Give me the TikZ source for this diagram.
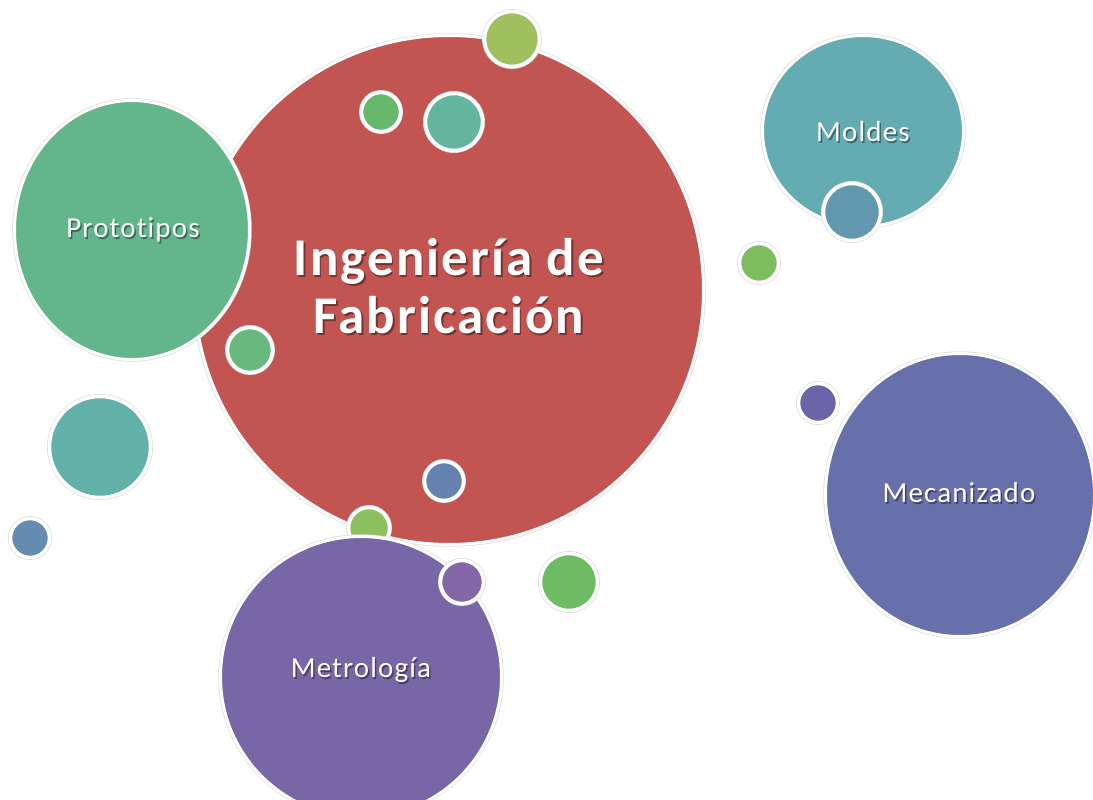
\documentclass[tikz,border=0pt]{standalone}
\usepackage{fontspec}
\setmainfont{Carlito}[Ligatures=NoCommon, LetterSpace=4]
\usetikzlibrary{shapes.geometric}
\definecolor{cred}{HTML}{C25551}
\definecolor{cproto}{HTML}{63B68C}
\definecolor{cteal}{HTML}{63B2A9}
\definecolor{cmold}{HTML}{64ACB2}
\definecolor{cbluem}{HTML}{6399B0}
\definecolor{cmeca}{HTML}{6870AC}
\definecolor{cmetro}{HTML}{7867A7}
\definecolor{cpurm}{HTML}{6B64A8}
\definecolor{cpurt}{HTML}{8367A8}
\definecolor{cyg}{HTML}{A0C060}
\definecolor{cg1}{HTML}{66B96B}
\definecolor{cg2}{HTML}{6DBB63}
\definecolor{cg3}{HTML}{7EBD5F}
\definecolor{cg4}{HTML}{68B880}
\definecolor{cg5}{HTML}{8DC05E}
\definecolor{cblr}{HTML}{6682B0}
\definecolor{cbll}{HTML}{648CB0}
\definecolor{ctealr}{HTML}{64B59E}
\tikzset{
  bub/.style={circle, inner sep=0pt, fill=#1, draw=white, line width=3.5pt,
    preaction={draw=black!13, line width=5pt}},
  bigbub/.style={ellipse, inner sep=0pt, fill=#1, draw=white, line width=3pt,
    preaction={draw=black!13, line width=4.5pt}},
  lbl/.style={text=white, inner sep=0pt, font=\fontsize{29}{32}\selectfont},
  shd/.style={text=black, opacity=0.4, inner sep=0pt, font=\fontsize{29}{32}\selectfont},
  mainlbl/.style={text=white, inner sep=0pt, anchor=base, font=\bfseries\fontsize{53}{58}\selectfont},
  mainshd/.style={text=black, opacity=0.4, inner sep=0pt, anchor=base, font=\bfseries\fontsize{53}{58}\selectfont},
}
\begin{document}
\begin{tikzpicture}[x=1pt,y=-1pt]
\useasboundingbox (0,0) rectangle (1093,800);
\clip (0,0) rectangle (1093,800);
% main
\node[bigbub=cred, minimum width=509pt, minimum height=509pt] (main) at (449,290) {};
\node[bub=cyg, minimum size=55pt] (yg) at (512,39) {};
\node[bub=cg1, minimum size=39pt] (g1) at (381,112) {};
\node[bub=ctealr, minimum size=57pt] (tr) at (454,122) {};
% prototipos
\node[bigbub=cproto, minimum width=235pt, minimum height=259pt] (proto) at (132,230) {};
\node[bub=cg4, minimum size=45pt] (g4) at (250,350) {};
\node[bub=cblr, minimum size=39pt] (blr) at (444,481) {};
\node[bub=cg5, minimum size=41pt] (g5) at (369,528) {};
% metrologia
\node[bigbub=cmetro, minimum width=281pt, minimum height=281pt] (metro) at (361,677) {};
\node[bub=cpurt, minimum size=43pt] (pt) at (462,582) {};
\node[bub=cg2, minimum size=57pt] (g2) at (569,582) {};
\node[bub=cteal, minimum size=101pt] (teal) at (100,447) {};
\node[bub=cbll, minimum size=39pt] (bll) at (30,538) {};
% moldes
\node[bigbub=cmold, minimum width=201pt, minimum height=191pt] (mold) at (863,131) {};
\node[bub=cbluem, minimum size=57pt] (blm) at (852,212) {};
\node[bub=cg3, minimum size=39pt] (g3) at (759,263) {};
% mecanizado
\node[bigbub=cmeca, minimum width=269pt, minimum height=283pt] (meca) at (960,495) {};
\node[bub=cpurm, minimum size=39pt] (pm) at (818,403) {};
% labels
\node[mainshd] (smain1) at (450.5,277) {Ingeniería de};
\node[mainlbl] (tmain1) at (449,275) {Ingeniería de};
\node[mainshd] (smain2) at (450.5,335) {Fabricación};
\node[mainlbl] (tmain2) at (449,333) {Fabricación};
\node[shd] (sproto) at (134.5,232) {Prototipos};
\node[lbl] (tproto) at (133,230) {Prototipos};
\node[shd] (smold) at (864.5,134) {Moldes};
\node[lbl] (tmold) at (863,132) {Moldes};
\node[shd] (smeca) at (960.5,495) {Mecanizado};
\node[lbl] (tmeca) at (959,493) {Mecanizado};
\node[shd] (smetro) at (362.5,672) {Metrología};
\node[lbl] (tmetro) at (361,670) {Metrología};
\end{tikzpicture}
\end{document}
